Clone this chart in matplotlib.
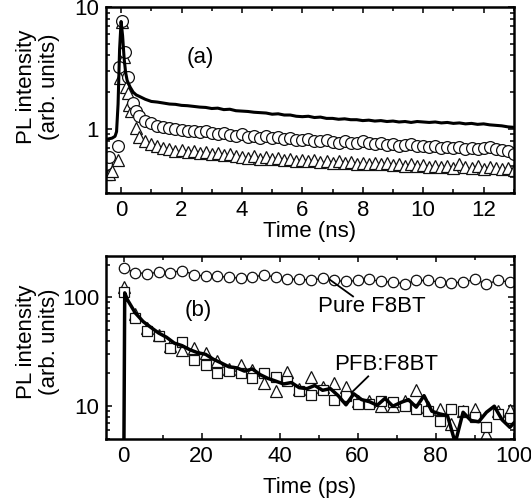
import numpy as np
import matplotlib
matplotlib.use("Agg")
import matplotlib.pyplot as plt
from matplotlib.ticker import LogLocator, MultipleLocator, NullFormatter, FixedLocator, FixedFormatter

plt.rcParams['font.family'] = ['Liberation Sans', 'DejaVu Sans']
plt.rcParams['font.size'] = 16

# ---- panel (a): time in ns ----
# solid line, early part then regular 0.2 ns grid
line_a_t0 = [-0.5, -0.4, -0.3, -0.2, -0.15, -0.1, -0.05, 0.0, 0.05, 0.1, 0.15, 0.2, 0.3, 0.4, 0.5]
line_a_y0 = [0.82, 0.83, 0.84, 0.87, 0.95, 1.6, 4.5, 7.6, 5.8, 3.8, 2.9, 2.5, 2.2, 2.0, 1.9]
line_a_y = [1.85, 1.75, 1.68, 1.66, 1.63, 1.60, 1.59, 1.56, 1.55, 1.53,
            1.51, 1.50, 1.47, 1.48, 1.44, 1.45, 1.41, 1.40, 1.39, 1.37,
            1.36, 1.35, 1.32, 1.33, 1.30, 1.30, 1.27, 1.26, 1.27, 1.24,
            1.25, 1.22, 1.22, 1.20, 1.21, 1.19, 1.19, 1.17, 1.18, 1.16,
            1.17, 1.15, 1.16, 1.14, 1.15, 1.13, 1.15, 1.14, 1.13, 1.14,
            1.12, 1.13, 1.11, 1.12, 1.10, 1.11, 1.09, 1.10, 1.08, 1.07,
            1.06, 1.04, 1.03]

circ_a_t0 = [-0.49, -0.41, -0.1, -0.07, 0.03, 0.12, 0.22, 0.38, 0.5]
circ_a_y0 = [0.52, 0.59, 0.72, 3.24, 7.6, 4.3, 2.68, 1.62, 1.4]
circ_a_y = [1.28, 1.16, 1.11, 1.06, 1.03, 1.01, 0.99, 0.98, 0.96, 0.97,
            0.94, 0.96, 0.93, 0.91, 0.93, 0.89, 0.88, 0.90, 0.86, 0.88,
            0.85, 0.87, 0.84, 0.86, 0.83, 0.84, 0.81, 0.81, 0.83, 0.80,
            0.79, 0.81, 0.78, 0.77, 0.79, 0.76, 0.77, 0.80, 0.76, 0.75,
            0.76, 0.74, 0.75, 0.73, 0.74, 0.75, 0.72, 0.73, 0.71, 0.72,
            0.70, 0.71, 0.70, 0.71, 0.69, 0.70, 0.68, 0.70, 0.71, 0.68,
            0.67, 0.66, 0.62]

tri_a_t0 = [-0.49, -0.41, -0.3, -0.1, -0.05, 0.03, 0.09, 0.17, 0.22, 0.27, 0.33, 0.5]
tri_a_y0 = [0.43, 0.43, 0.45, 0.56, 2.6, 7.5, 3.9, 2.22, 1.96, 1.57, 1.39, 1.01]
tri_a_y = [0.86, 0.79, 0.75, 0.72, 0.70, 0.68, 0.66, 0.67, 0.65, 0.66,
           0.63, 0.65, 0.62, 0.63, 0.61, 0.62, 0.60, 0.59, 0.58, 0.60,
           0.57, 0.59, 0.57, 0.58, 0.56, 0.57, 0.55, 0.56, 0.55, 0.56,
           0.54, 0.55, 0.53, 0.55, 0.53, 0.54, 0.52, 0.53, 0.52, 0.53,
           0.52, 0.53, 0.51, 0.52, 0.50, 0.52, 0.50, 0.51, 0.49, 0.50,
           0.49, 0.50, 0.48, 0.52, 0.49, 0.48, 0.50, 0.47, 0.49, 0.48,
           0.47, 0.48, 0.46]

grid_a = np.round(np.arange(0.6, 13.01, 0.2), 2)

# ---- panel (b): time in ps ----
mark_b_t = np.arange(0, 100, 3)
pure_b = [185, 169, 165, 170, 169, 176, 162, 156, 156, 153,
          150, 153, 161, 153, 146, 148, 143, 150, 143, 140, 143,
          146, 140, 138, 133, 143, 143, 138, 136, 138, 146, 133, 143, 138]
tri_b = [124, 70, 52.5, 45, 35.5, 33, 34, 31, 26, 22,
         24, 21.7, 16.5, 13.7, 20.8, 14.3, 18.4, 15, 16.5, 15, 11.2,
         11.2, 10, 10, 11.2, 14, 9.8, 9.4, 6.8, 9.1, 9.4, 5.6, 9.1, 9.3]
sq_b = [112, 64, 49, 44, 34.5, 38.7, 26.8, 24, 20.4, 21,
        20.4, 18, 20, 18.5, 17, 13.7, 12.6, 14, 11.3, 12.4, 10.4,
        10.4, 11.2, 11, 10, 9.4, 9.1, 7.3, 9.4, 9.1, 7.9, 6.4, 8.5, 7.8]

blend_b_t = [0.0, 0.3, 1.0] + list(range(3, 100, 2)) + [100]
blend_b_y = [1.0, 110, 95,
             72, 60, 53, 47, 43, 38, 36, 33, 31, 30,
             27, 25, 23, 22.5, 21, 22, 19.5, 18, 17, 16,
             16.5, 14.8, 14.5, 15.5, 14, 14.5, 12.5, 10.3, 13, 11.5,
             11, 10.2, 11.8, 10, 10.8, 11.5, 9.8, 12.5, 9, 8.5,
             8.2, 4.6, 8.8, 7.4, 7.2, 8.8, 10, 7.5, 6.4,
             7.0]

fig = plt.figure(figsize=(5.31, 5.01), dpi=100)
ax1 = fig.add_axes([0.1996, 0.6154, 0.768, 0.3707])
ax2 = fig.add_axes([0.1996, 0.1238, 0.768, 0.3653])

mk = dict(linestyle='none', markerfacecolor='white', markeredgecolor='#111111', markeredgewidth=0.9)

# panel (a)
ax1.plot(np.r_[tri_a_t0, grid_a], np.r_[tri_a_y0, tri_a_y], marker='^', markersize=8.5, **mk)
ax1.plot(np.r_[circ_a_t0, grid_a], np.r_[circ_a_y0, circ_a_y], marker='o', markersize=8.5, **mk)
ax1.plot(np.r_[line_a_t0, grid_a], np.r_[line_a_y0, line_a_y], color='black', linewidth=2.2)

ax1.set_yscale('log')
ax1.set_xlim(-0.5, 13)
ax1.set_ylim(0.3, 10)
ax1.xaxis.set_major_locator(MultipleLocator(2))
ax1.xaxis.set_minor_locator(MultipleLocator(1))
ax1.yaxis.set_major_locator(FixedLocator([1, 10]))
ax1.yaxis.set_major_formatter(FixedFormatter(['1', '10']))
ax1.yaxis.set_minor_locator(LogLocator(base=10, subs=np.arange(2, 10)))
ax1.yaxis.set_minor_formatter(NullFormatter())
ax1.set_xlabel('Time (ns)', labelpad=0)
ax1.set_ylabel('PL intensity\n(arb. units)', linespacing=1.15)
ax1.text(2.16, 3.86, '(a)', ha='left', va='center')

# panel (b)
ax2.plot(mark_b_t, pure_b, color='black', linewidth=1.0, marker='o', markersize=7.5,
         markerfacecolor='white', markeredgecolor='#111111', markeredgewidth=0.9)
ax2.plot(mark_b_t, tri_b, marker='^', markersize=8, **mk)
ax2.plot(mark_b_t, sq_b, marker='s', markersize=6.5, **mk)
ax2.plot(blend_b_t, blend_b_y, color='black', linewidth=2.5)

ax2.set_yscale('log')
ax2.set_xlim(-4.5, 100)
ax2.set_ylim(5, 240)
ax2.xaxis.set_major_locator(MultipleLocator(20))
ax2.xaxis.set_minor_locator(MultipleLocator(10))
ax2.yaxis.set_major_locator(FixedLocator([10, 100]))
ax2.yaxis.set_major_formatter(FixedFormatter(['10', '100']))
ax2.yaxis.set_minor_locator(LogLocator(base=10, subs=np.arange(2, 10)))
ax2.yaxis.set_minor_formatter(NullFormatter())
ax2.set_xlabel('Time (ps)', labelpad=7)
ax2.set_ylabel('PL intensity\n(arb. units)', linespacing=1.15)
ax2.text(15.6, 75.5, '(b)', ha='left', va='center')
ax2.text(49.9, 83, 'Pure F8BT', ha='left', va='center')
ax2.plot([52.9, 58.8], [145, 102], color='black', linewidth=1.3)
ax2.text(53.9, 24.1, 'PFB:F8BT', ha='left', va='center')
ax2.plot([62.7, 58.4], [18.8, 13.3], color='black', linewidth=1.3)

for ax in (ax1, ax2):
    for s in ax.spines.values():
        s.set_linewidth(1.8)
    ax.tick_params(which='both', direction='in', top=True, right=True, width=1.1)
    ax.tick_params(which='major', length=4.5, pad=5)
    ax.tick_params(which='minor', length=2.7)

ax1.yaxis.set_label_coords(-0.113, 0.57)
ax2.yaxis.set_label_coords(-0.113, 0.53)

fig.savefig('out.png', dpi=100)
